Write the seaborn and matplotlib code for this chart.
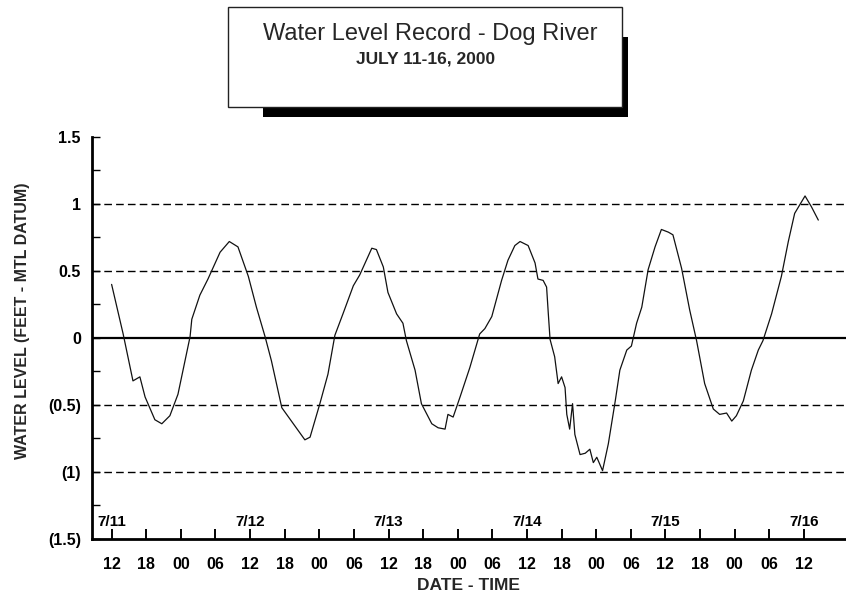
import numpy as np
import pandas as pd
import matplotlib
matplotlib.use("Agg")
import matplotlib.pyplot as plt
import matplotlib.transforms as mtransforms
from matplotlib.patches import Rectangle
import seaborn as sns

# ---- data (hours after 7/11 00:00, water level in feet) ----
hours = [12.0, 14.0, 15.7, 16.9, 17.8, 19.5, 20.7, 22.1, 23.5, 25.6, 25.9, 27.3, 28.7,
         30.8, 32.4, 33.9, 35.7, 37.1, 38.6, 39.7, 41.5, 43.5, 45.5, 46.4, 48.1, 49.5,
         50.7, 52.1, 53.9, 55.0, 57.1, 57.9, 59.1, 59.9, 61.4, 62.5, 63.1, 64.6, 65.7,
         67.5, 68.6, 69.8, 70.3, 71.2, 72.4, 74.1, 75.8, 76.7, 77.9, 79.6, 80.7, 81.9,
         82.8, 84.2, 85.4, 85.9, 86.8, 87.4, 87.7, 88.0, 88.8, 89.4, 90.0, 90.6, 90.9,
         91.4, 91.9, 92.3, 93.2, 94.1, 94.9, 95.5, 96.1, 97.1, 98.1, 99.3, 100.1, 101.3,
         102.1, 103.0, 103.9, 105.0, 106.2, 107.3, 108.5, 109.3, 110.8, 112.2, 113.4,
         114.8, 116.3, 117.4, 118.6, 119.5, 120.3, 121.5, 122.9, 124.1, 124.9, 126.4,
         128.1, 129.3, 130.4, 132.2, 133.3, 134.5]
level = [0.40, 0.03, -0.32, -0.29, -0.44, -0.61, -0.64, -0.58, -0.42, 0.01, 0.14, 0.32, 0.44,
         0.64, 0.72, 0.68, 0.46, 0.23, 0.01, -0.17, -0.52, -0.64, -0.76, -0.74, -0.49, -0.27,
         0.02, 0.18, 0.39, 0.47, 0.67, 0.66, 0.53, 0.34, 0.18, 0.11, -0.02, -0.24, -0.49,
         -0.64, -0.67, -0.68, -0.57, -0.59, -0.44, -0.22, 0.03, 0.07, 0.16, 0.43, 0.58, 0.69,
         0.72, 0.69, 0.56, 0.44, 0.43, 0.38, 0.18, -0.01, -0.14, -0.34, -0.29, -0.37, -0.57,
         -0.68, -0.49, -0.72, -0.87, -0.86, -0.83, -0.93, -0.89, -0.99, -0.79, -0.47, -0.24, -0.09,
         -0.06, 0.11, 0.23, 0.51, 0.68, 0.81, 0.79, 0.77, 0.52, 0.21, -0.02,
         -0.34, -0.53, -0.57, -0.56, -0.62, -0.58, -0.47, -0.24, -0.09, -0.02, 0.18,
         0.46, 0.72, 0.93, 1.06, 0.98, 0.88]

tick_hours = [12, 18, 24, 30, 36, 42, 48, 54, 60, 66, 72, 78, 84, 90, 96, 102, 108, 114, 120, 126, 132]
tick_labels = ["12", "18", "00", "06"] * 5 + ["12"]
date_hours = [12, 36, 60, 84, 108, 132]
date_labels = ["7/11", "7/12", "7/13", "7/14", "7/15", "7/16"]
ytick_vals = [1.5, 1.0, 0.5, 0.0, -0.5, -1.0, -1.5]
ytick_labels = ["1.5", "1", "0.5", "0", "(0.5)", "(1)", "(1.5)"]
grid_vals = [1.0, 0.5, -0.5, -1.0]

title = "Water Level Record - Dog River"
subtitle = "JULY 11-16, 2000"

sns.set_style("white")
plt.rcParams["font.family"] = ["Liberation Sans", "DejaVu Sans"]
plt.rcParams["axes.axisbelow"] = False

W, H = 846, 600
fig = plt.figure(figsize=(W / 100, H / 100), dpi=100)
fig.patch.set_facecolor("white")

def fx(px):
    return px / W

def fy(py):
    return 1 - py / H

ax = fig.add_axes([fx(92), fy(539), fx(846) - fx(92), fy(137) - fy(539)])
ax.set_facecolor("white")

df = pd.DataFrame({"hours": hours, "level": level})

for g in grid_vals:
    ax.axhline(g, color="black", linewidth=1.0, dashes=(5.5, 3.0), zorder=1)
ax.axhline(0, color="black", linewidth=1.6, zorder=2)

sns.lineplot(data=df, x="hours", y="level", ax=ax, color="#111111", linewidth=0.9, zorder=3)

ax.set_xlim(8.6, 139.3)
ax.set_ylim(-1.5, 1.5)

for s in ["top", "right"]:
    ax.spines[s].set_visible(False)
for s in ["left", "bottom"]:
    ax.spines[s].set_linewidth(2.0)
    ax.spines[s].set_color("black")

ax.set_xticks(tick_hours)
ax.set_xticklabels(tick_labels, fontsize=11.5, fontweight="bold")
ax.set_yticks(ytick_vals)
ax.set_yticklabels(ytick_labels, fontsize=11.5, fontweight="bold")
ax.set_yticks(np.arange(-1.5, 1.51, 0.25), minor=True)
ax.tick_params(axis="x", which="major", bottom=True, direction="in", length=7.5, width=1.2,
               pad=13, colors="black")
ax.tick_params(axis="y", which="both", left=True, direction="in", length=6, width=1.0,
               pad=8, colors="black")
ax.set_xlabel("")
ax.set_ylabel("")

trans = mtransforms.blended_transform_factory(ax.transData, ax.transAxes)
# inward time ticks along the bottom axis
ax.vlines(tick_hours, 0, 0.026, transform=trans, colors="black", linewidth=1.2,
          zorder=4, clip_on=False)
for h, lab in zip(date_hours, date_labels):
    ax.text(h, 0.024, lab, transform=trans, ha="center", va="bottom",
            fontsize=11, fontweight="bold", color="black")

fig.text(fx(468), fy(586), "DATE - TIME", ha="center", va="center",
         fontsize=12.5, fontweight="bold")
fig.text(fx(23), fy(321), "WATER LEVEL (FEET - MTL DATUM)", rotation=90,
         ha="center", va="center", fontsize=11.5, fontweight="bold")

# title box with shadow
shadow = Rectangle((fx(263), fy(117)), fx(628) - fx(263), fy(37) - fy(117),
                   transform=fig.transFigure, facecolor="black", edgecolor="none", zorder=1)
box = Rectangle((fx(228), fy(107)), fx(622) - fx(228), fy(7) - fy(107),
                transform=fig.transFigure, facecolor="white", edgecolor="#222222",
                linewidth=1.0, zorder=2)
fig.patches.extend([shadow, box])
fig.text(fx(430), fy(34), title, ha="center", va="center", fontsize=17, zorder=3)
fig.text(fx(426), fy(59), subtitle, ha="center", va="center", fontsize=12.5,
         fontweight="bold", zorder=3)

fig.savefig("out.png", dpi=100, facecolor="white")
